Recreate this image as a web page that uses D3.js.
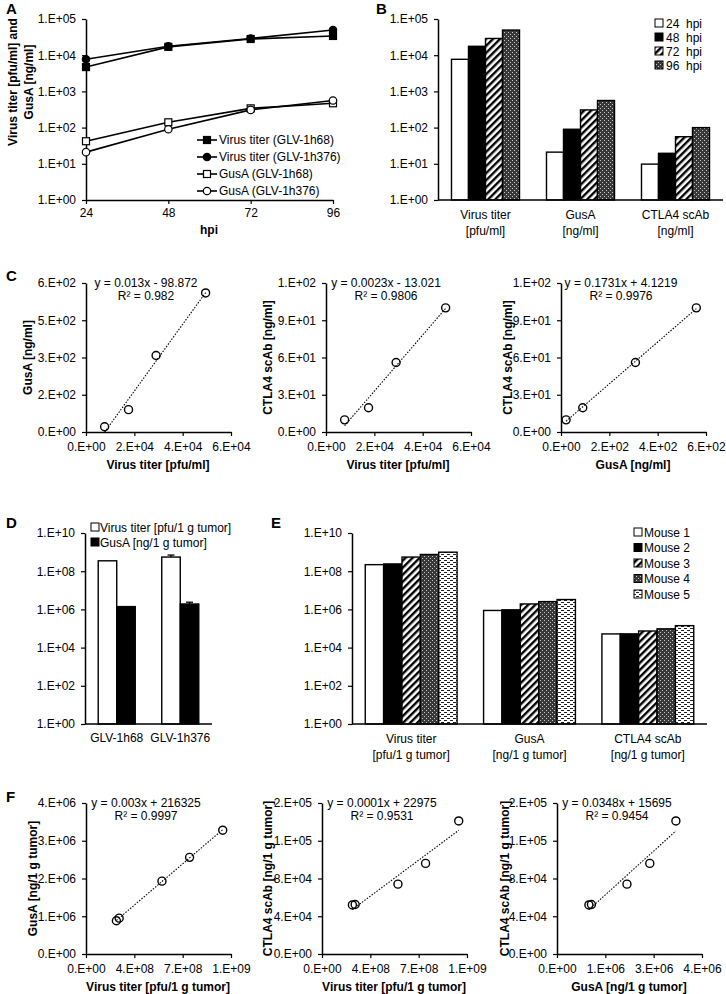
<!DOCTYPE html>
<meta charset="utf-8">
<script src="https://d3js.org/d3.v7.min.js"></script>
<style>
  body { margin: 0; background: #fff; }
</style>
<div id="fig"></div>
<script>
  // ---- values ----
  const hpi = [24, 48, 72, 96];
  const virus68 = [4700, 17000, 28000, 34000];
  const virus376 = [7700, 17600, 29000, 49500];
  const gusA68 = [42, 140, 340, 470];
  const gusA376 = [21, 90, 308, 560];
  const ctla4 = [9.8, 19.5, 56, 100];
  const seriesA = ["Virus titer (GLV-1h68)", "Virus titer (GLV-1h376)", "GusA (GLV-1h68)", "GusA (GLV-1h376)"];

  const hpiLabels = ["24  hpi", "48  hpi", "72  hpi", "96  hpi"];
  const catsB = [["Virus titer", "[pfu/ml]"], ["GusA", "[ng/ml]"], ["CTLA4 scAb", "[ng/ml]"]];

  const eqC = ["y = 0.013x - 98.872", "y = 0.0023x - 13.021", "y = 0.1731x + 4.1219"];
  const r2C = ["R² = 0.982", "R² = 0.9806", "R² = 0.9976"];

  const strainsD = ["GLV-1h68", "GLV-1h376"];
  const virusD = [3.5e8, 5.5e8];
  const gusAD = [1.4e6, 1.92e6];
  const virusErrD = [0, 1.5e8];
  const gusAErrD = [0, 4.6e5];
  const seriesD = ["Virus titer [pfu/1 g tumor]", "GusA [ng/1 g tumor]"];

  const mice = ["Mouse 1", "Mouse 2", "Mouse 3", "Mouse 4", "Mouse 5"];
  const catsE = [["Virus titer", "[pfu/1 g tumor]"], ["GusA", "[ng/1 g tumor]"], ["CTLA4 scAb", "[ng/1 g tumor]"]];
  const virusE = [2.2e8, 2.4e8, 5.5e8, 7.5e8, 9.9e8];
  const gusAE = [8.8e5, 9.5e5, 1.93e6, 2.56e6, 3.28e6];
  const ctla4E = [5.2e4, 5.25e4, 7.4e4, 9.6e4, 1.41e5];

  const eqF = ["y = 0.003x + 216325", "y = 0.0001x + 22975", "y = 0.0348x + 15695"];
  const r2F = ["R² = 0.9997", "R² = 0.9531", "R² = 0.9454"];

  const FONT = '"Liberation Sans", Arial, sans-serif';

  // excel style "0.E+00" labels
  function fmtE(v) {
    if (v === 0) return "0.E+00";
    let e = Math.floor(Math.log10(Math.abs(v)) + 1e-9);
    let m = Math.round(v / Math.pow(10, e));
    if (m >= 10) { m = 1; e++; }
    return m + ".E" + (e < 0 ? "-" : "+") + String(Math.abs(e)).padStart(2, "0");
  }

  const svg = d3.select("#fig").append("svg")
    .attr("width", 726).attr("height", 994)
    .attr("font-family", FONT);

  // fill patterns
  const defs = svg.append("defs");
  const diag = defs.append("pattern").attr("id", "diag").attr("patternUnits", "userSpaceOnUse")
    .attr("width", 5).attr("height", 5).attr("patternTransform", "rotate(45)");
  diag.append("rect").attr("width", 5).attr("height", 5).attr("fill", "#fff");
  diag.append("rect").attr("width", 2.4).attr("height", 5).attr("fill", "#000");
  const mesh = defs.append("pattern").attr("id", "mesh").attr("patternUnits", "userSpaceOnUse")
    .attr("width", 4).attr("height", 4);
  mesh.append("rect").attr("width", 4).attr("height", 4).attr("fill", "#383838");
  mesh.append("rect").attr("width", 1).attr("height", 1).attr("fill", "#c8c8c8");
  mesh.append("rect").attr("x", 2).attr("y", 2).attr("width", 1).attr("height", 1).attr("fill", "#c8c8c8");
  const dash = defs.append("pattern").attr("id", "dash").attr("patternUnits", "userSpaceOnUse")
    .attr("width", 6).attr("height", 4);
  dash.append("rect").attr("width", 6).attr("height", 4).attr("fill", "#fff");
  dash.append("rect").attr("width", 3).attr("height", 1).attr("fill", "#222");
  dash.append("rect").attr("x", 3).attr("y", 2).attr("width", 3).attr("height", 1).attr("fill", "#222");

  const fills = ["#fff", "#000", "url(#diag)", "url(#mesh)", "url(#dash)"];

  function styleAxis(g) {
    g.attr("font-family", FONT).attr("font-size", 12);
    g.select(".domain").attr("stroke-width", 1.5);
    g.selectAll(".tick line").attr("stroke-width", 1.2);
    g.selectAll(".tick text").attr("fill", "#000");
  }

  function panelLabel(t, x, y) {
    svg.append("text").attr("x", x).attr("y", y).attr("font-weight", "bold")
      .attr("font-size", 15).text(t);
  }

  function yTitle(lines, x, cy) {
    const t = svg.append("text").attr("transform", `translate(${x},${cy}) rotate(-90)`)
      .attr("text-anchor", "middle").attr("font-weight", "bold").attr("font-size", 12);
    lines.forEach((l, i) => t.append("tspan").attr("x", 0).attr("dy", i ? 15.5 : 0).text(l));
  }

  function twoLine(x, y, lines) {
    const t = svg.append("text").attr("x", x).attr("y", y).attr("text-anchor", "middle").attr("font-size", 12);
    lines.forEach((l, i) => t.append("tspan").attr("x", x).attr("dy", i ? 15.5 : 0).text(l));
  }

  const logTicks5 = [1, 10, 100, 1e3, 1e4, 1e5];
  const logTicks10 = [1, 1e2, 1e4, 1e6, 1e8, 1e10];

  // ================= A =================
  panelLabel("A", 6, 14);
  const xA = d3.scaleLinear().domain([24, 96]).range([86, 333]);
  const yA = d3.scaleLog().domain([1, 1e5]).range([200, 19]);
  svg.append("g").attr("transform", "translate(0,200)")
    .call(d3.axisBottom(xA).tickValues(hpi).tickFormat(d3.format("d")).tickSize(4).tickSizeOuter(0).tickPadding(4))
    .call(styleAxis);
  svg.append("g").attr("transform", "translate(86,0)")
    .call(d3.axisLeft(yA).tickValues(logTicks5).tickFormat(fmtE).tickSize(4).tickSizeOuter(0).tickPadding(6))
    .call(styleAxis);
  svg.append("text").attr("x", 209).attr("y", 234).attr("text-anchor", "middle")
    .attr("font-weight", "bold").attr("font-size", 12).text("hpi");
  yTitle(["Virus titer [pfu/ml] and", "GusA [ng/ml]"], 17, 82);

  const dataA = [virus68, virus376, gusA68, gusA376];
  const shapeA = ["square", "circle", "square", "circle"];
  const fillA = ["#000", "#000", "#fff", "#fff"];
  const lineA = d3.line().x((d, i) => xA(hpi[i])).y(d => yA(d));

  function marker(g, shape, fill, x, y) {
    if (shape === "square") {
      g.append("rect").attr("x", x - 3.5).attr("y", y - 3.5).attr("width", 7).attr("height", 7)
        .attr("fill", fill).attr("stroke", "#000").attr("stroke-width", 1.2);
    } else {
      g.append("circle").attr("cx", x).attr("cy", y).attr("r", 3.7)
        .attr("fill", fill).attr("stroke", "#000").attr("stroke-width", 1.2);
    }
  }

  dataA.forEach((vals, s) => {
    svg.append("path").datum(vals).attr("d", lineA)
      .attr("fill", "none").attr("stroke", "#000").attr("stroke-width", 1.6);
  });
  dataA.forEach((vals, s) => {
    const g = svg.append("g");
    vals.forEach((v, i) => marker(g, shapeA[s], fillA[s], xA(hpi[i]), yA(v)));
  });

  // legend A
  seriesA.forEach((name, s) => {
    const y = 140 + s * 17;
    const g = svg.append("g");
    g.append("line").attr("x1", 197).attr("x2", 217).attr("y1", y).attr("y2", y)
      .attr("stroke", "#000").attr("stroke-width", 1.6);
    marker(g, shapeA[s], fillA[s], 207, y);
    g.append("text").attr("x", 219).attr("y", y + 4.3).attr("font-size", 12).text(name);
  });

  // ================= B =================
  panelLabel("B", 376, 14);
  const xB = d3.scaleBand().domain(d3.range(catsB.length)).range([438, 723])
    .paddingInner(0.284).paddingOuter(0.142);
  const xBi = d3.scaleBand().domain(d3.range(hpiLabels.length)).range([0, xB.bandwidth()]);
  const valuesB = [virus376, gusA376, ctla4];
  svg.append("g").attr("transform", "translate(438,0)")
    .call(d3.axisLeft(yA).tickValues(logTicks5).tickFormat(fmtE).tickSize(4).tickSizeOuter(0).tickPadding(6))
    .call(styleAxis);
  valuesB.forEach((vals, ci) => {
    vals.forEach((v, si) => {
      svg.append("rect").attr("x", xB(ci) + xBi(si)).attr("y", yA(v))
        .attr("width", xBi.bandwidth()).attr("height", yA(1) - yA(v))
        .attr("fill", fills[si]).attr("stroke", "#000").attr("stroke-width", 1.4);
    });
    twoLine(xB(ci) + xB.bandwidth() / 2, 219, catsB[ci]);
  });
  svg.append("line").attr("x1", 438).attr("x2", 723).attr("y1", 200).attr("y2", 200)
    .attr("stroke", "#000").attr("stroke-width", 1.5);
  hpiLabels.forEach((l, i) => {
    const y = 23 + i * 14;
    svg.append("rect").attr("x", 655).attr("y", y - 4).attr("width", 8).attr("height", 8)
      .attr("fill", fills[i]).attr("stroke", "#000").attr("stroke-width", 1);
    svg.append("text").attr("x", 666).attr("y", y + 4.5).attr("font-size", 12)
      .style("white-space", "pre").text(l);
  });

  // ================= scatter helper (C, F) =================
  function scatter(o) {
    const x = d3.scaleLinear().domain(o.xDomain).range([o.x0, o.x0 + 145]);
    const y = d3.scaleLinear().domain(o.yDomain).range([o.yBot, o.yTop]);
    svg.append("g").attr("transform", `translate(0,${o.yBot})`)
      .call(d3.axisBottom(x).tickValues(o.xTicks).tickFormat(fmtE).tickSize(4).tickSizeOuter(0).tickPadding(6))
      .call(styleAxis);
    svg.append("g").attr("transform", `translate(${o.x0},0)`)
      .call(d3.axisLeft(y).tickValues(o.yTicks).tickFormat(fmtE).tickSize(4).tickSizeOuter(0).tickPadding(6))
      .call(styleAxis);
    // least squares trendline over the data range
    const mx = d3.mean(o.xs), my = d3.mean(o.ys);
    const slope = d3.sum(o.xs, (v, i) => (v - mx) * (o.ys[i] - my)) / d3.sum(o.xs, v => (v - mx) ** 2);
    const icpt = my - slope * mx;
    const [lo, hi] = d3.extent(o.xs);
    svg.append("line").attr("x1", x(lo)).attr("y1", y(slope * lo + icpt))
      .attr("x2", x(hi)).attr("y2", y(slope * hi + icpt))
      .attr("stroke", "#000").attr("stroke-width", 1.1).attr("stroke-dasharray", "1.5,1.5");
    o.xs.forEach((v, i) => {
      svg.append("circle").attr("cx", x(v)).attr("cy", y(o.ys[i])).attr("r", 4)
        .attr("fill", "none").attr("stroke", "#000").attr("stroke-width", 1.4);
    });
    const cx = o.x0 + 60;
    svg.append("text").attr("x", cx).attr("y", o.yTop + 4).attr("text-anchor", "middle")
      .attr("font-size", 12).text(o.eq);
    svg.append("text").attr("x", cx).attr("y", o.yTop + 17).attr("text-anchor", "middle")
      .attr("font-size", 12).text(o.r2);
    svg.append("text").attr("x", o.x0 + 72).attr("y", o.yBot + 37).attr("text-anchor", "middle")
      .attr("font-weight", "bold").attr("font-size", 12).text(o.xTitle);
    yTitle([o.yTitle], o.titleX, (o.yTop + o.yBot) / 2);
  }

  // ================= C =================
  panelLabel("C", 6, 281);
  const ticks600 = [0, 150, 300, 450, 600];
  const ticks120 = [0, 30, 60, 90, 120];
  const ticks6e4 = [0, 2e4, 4e4, 6e4];
  scatter({ x0: 86, yTop: 283, yBot: 432, xDomain: [0, 6e4], xTicks: ticks6e4, yDomain: [0, 600], yTicks: ticks600,
    xs: virus376, ys: gusA376, eq: eqC[0], r2: r2C[0], xTitle: "Virus titer [pfu/ml]", yTitle: "GusA [ng/ml]", titleX: 32 });
  scatter({ x0: 326, yTop: 283, yBot: 432, xDomain: [0, 6e4], xTicks: ticks6e4, yDomain: [0, 120], yTicks: ticks120,
    xs: virus376, ys: ctla4, eq: eqC[1], r2: r2C[1], xTitle: "Virus titer [pfu/ml]", yTitle: "CTLA4 scAb [ng/ml]", titleX: 272 });
  scatter({ x0: 561, yTop: 283, yBot: 432, xDomain: [0, 600], xTicks: [0, 200, 400, 600], yDomain: [0, 120], yTicks: ticks120,
    xs: gusA376, ys: ctla4, eq: eqC[2], r2: r2C[2], xTitle: "GusA [ng/ml]", yTitle: "CTLA4 scAb [ng/ml]", titleX: 512 });

  // ================= D =================
  panelLabel("D", 6, 528);
  const yD = d3.scaleLog().domain([1, 1e10]).range([724, 533]);
  const xD = d3.scaleBand().domain(d3.range(strainsD.length)).range([85, 212]).paddingInner(0.417).paddingOuter(0.208);
  const xDi = d3.scaleBand().domain(d3.range(seriesD.length)).range([0, xD.bandwidth()]);
  svg.append("g").attr("transform", "translate(85,0)")
    .call(d3.axisLeft(yD).tickValues(logTicks10).tickFormat(fmtE).tickSize(4).tickSizeOuter(0).tickPadding(6))
    .call(styleAxis);
  const valuesD = [virusD, gusAD], errD = [virusErrD, gusAErrD];
  strainsD.forEach((s, ci) => {
    valuesD.forEach((vals, si) => {
      const bx = xD(ci) + xDi(si), v = vals[ci], e = errD[si][ci];
      svg.append("rect").attr("x", bx).attr("y", yD(v)).attr("width", xDi.bandwidth()).attr("height", yD(1) - yD(v))
        .attr("fill", fills[si]).attr("stroke", "#000").attr("stroke-width", 1.4);
      if (e > 0) {
        const cx = bx + xDi.bandwidth() / 2;
        svg.append("line").attr("x1", cx).attr("x2", cx).attr("y1", yD(v)).attr("y2", yD(v + e))
          .attr("stroke", "#000").attr("stroke-width", 1.3);
        svg.append("line").attr("x1", cx - 3.5).attr("x2", cx + 3.5).attr("y1", yD(v + e)).attr("y2", yD(v + e))
          .attr("stroke", "#000").attr("stroke-width", 1.3);
      }
    });
    svg.append("text").attr("x", xD(ci) + xD.bandwidth() / 2).attr("y", 742).attr("text-anchor", "middle")
      .attr("font-size", 12).text(s);
  });
  svg.append("line").attr("x1", 85).attr("x2", 212).attr("y1", 724).attr("y2", 724)
    .attr("stroke", "#000").attr("stroke-width", 1.5);
  seriesD.forEach((l, i) => {
    const y = 527 + i * 15;
    svg.append("rect").attr("x", 91).attr("y", y - 4).attr("width", 8).attr("height", 8)
      .attr("fill", fills[i]).attr("stroke", "#000").attr("stroke-width", 1);
    svg.append("text").attr("x", 100).attr("y", y + 4.5).attr("font-size", 12).text(l);
  });

  // ================= E =================
  panelLabel("E", 271, 528);
  const xE = d3.scaleBand().domain(d3.range(catsE.length)).range([352, 707]).paddingInner(0.224).paddingOuter(0.112);
  const xEi = d3.scaleBand().domain(d3.range(mice.length)).range([0, xE.bandwidth()]);
  svg.append("g").attr("transform", "translate(352,0)")
    .call(d3.axisLeft(yD).tickValues(logTicks10).tickFormat(fmtE).tickSize(4).tickSizeOuter(0).tickPadding(6))
    .call(styleAxis);
  const valuesE = [virusE, gusAE, ctla4E];
  valuesE.forEach((vals, ci) => {
    vals.forEach((v, si) => {
      svg.append("rect").attr("x", xE(ci) + xEi(si)).attr("y", yD(v))
        .attr("width", xEi.bandwidth()).attr("height", yD(1) - yD(v))
        .attr("fill", fills[si]).attr("stroke", "#000").attr("stroke-width", 1.4);
    });
    twoLine(xE(ci) + xE.bandwidth() / 2, 743, catsE[ci]);
  });
  svg.append("line").attr("x1", 352).attr("x2", 707).attr("y1", 724).attr("y2", 724)
    .attr("stroke", "#000").attr("stroke-width", 1.5);
  mice.forEach((l, i) => {
    const y = 532 + i * 15.5;
    svg.append("rect").attr("x", 634).attr("y", y - 4).attr("width", 8).attr("height", 8)
      .attr("fill", fills[i]).attr("stroke", "#000").attr("stroke-width", 1);
    svg.append("text").attr("x", 644).attr("y", y + 4.5).attr("font-size", 12).text(l);
  });

  // ================= F =================
  panelLabel("F", 6, 802);
  const ticks1e9 = [0, 3.5e8, 7e8, 1.05e9];
  const ticks4e6 = [0, 1e6, 2e6, 3e6, 4e6];
  const ticks16e4 = [0, 4e4, 8e4, 1.2e5, 1.6e5];
  scatter({ x0: 86, yTop: 803, yBot: 954, xDomain: [0, 1.05e9], xTicks: ticks1e9, yDomain: [0, 4e6], yTicks: ticks4e6,
    xs: virusE, ys: gusAE, eq: eqF[0], r2: r2F[0], xTitle: "Virus titer [pfu/1 g tumor]", yTitle: "GusA [ng/1 g tumor]", titleX: 37 });
  scatter({ x0: 322, yTop: 803, yBot: 954, xDomain: [0, 1.05e9], xTicks: ticks1e9, yDomain: [0, 1.6e5], yTicks: ticks16e4,
    xs: virusE, ys: ctla4E, eq: eqF[1], r2: r2F[1], xTitle: "Virus titer [pfu/1 g tumor]", yTitle: "CTLA4 scAb [ng/1 g tumor]", titleX: 272 });
  scatter({ x0: 557, yTop: 803, yBot: 954, xDomain: [0, 4e6], xTicks: [0, 4e6 / 3, 8e6 / 3, 4e6], yDomain: [0, 1.6e5], yTicks: ticks16e4,
    xs: gusAE, ys: ctla4E, eq: eqF[2], r2: r2F[2], xTitle: "GusA [ng/1 g tumor]", yTitle: "CTLA4 scAb [ng/1 g tumor]", titleX: 509 });
</script>
